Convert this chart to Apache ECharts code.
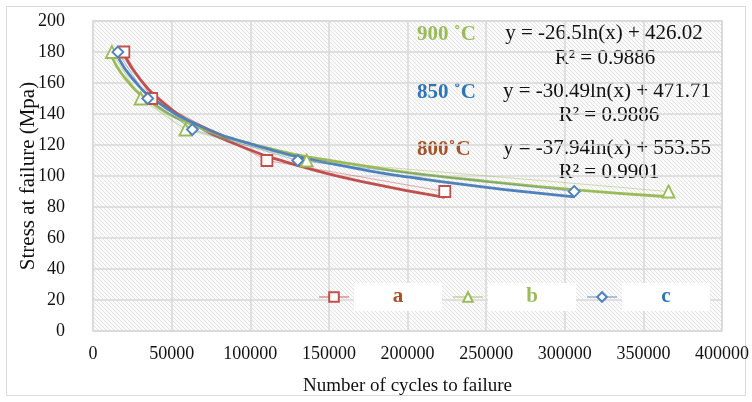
<!DOCTYPE html>
<html>
<head>
<meta charset="utf-8">
<script src="https://cdn.jsdelivr.net/npm/echarts@6/dist/echarts.min.js"></script>
<style>
  html, body { margin: 0; padding: 0; background: #fff; }
  #main { width: 752px; height: 402px; }
</style>
</head>
<body>
<div id="main"></div>
<script>
// measured points (cycles, stress)
var aX = [19600, 37300, 110600, 223700];
var aY = [180, 150, 110, 90];
var bX = [12000, 30300, 58800, 135900, 366000];
var bY = [180, 150, 130, 110, 90];
var cX = [15800, 34800, 63200, 130200, 306000];
var cY = [180, 150, 130, 110, 90];

// log trend lines
var trendAX = [19600, 30000, 45000, 65000, 90000, 130000, 175000, 223700];
var trendAY = [178.4, 162.4, 147.1, 133.1, 120.8, 106.8, 95.5, 86.2];
var trendBX = [12000, 20000, 35000, 60000, 100000, 160000, 250000, 366000];
var trendBY = [177.1, 163.6, 148.8, 134.5, 120.9, 108.5, 96.6, 86.6];
var trendCX = [15800, 25000, 40000, 65000, 100000, 150000, 220000, 306000];
var trendCY = [176.9, 162.9, 148.6, 133.8, 120.7, 108.3, 96.6, 86.6];

var xTicks = [0, 50000, 100000, 150000, 200000, 250000, 300000, 350000, 400000];
var yTicks = [0, 20, 40, 60, 80, 100, 120, 140, 160, 180, 200];

var RED = '#C0504D', GREEN = '#9BBB59', BLUE = '#4F81BD';
var FONT = '"Liberation Serif", "Times New Roman", serif';

function pairs(xs, ys) {
    var out = [];
    for (var i = 0; i < xs.length; i++) out.push([xs[i], ys[i]]);
    return out;
}

// hatch pattern for plot background
var pc = document.createElement('canvas');
pc.width = 4; pc.height = 4;
var ctx = pc.getContext('2d');
ctx.fillStyle = '#fbfbfb';
ctx.fillRect(0, 0, 4, 4);
ctx.strokeStyle = '#e2e2e2';
ctx.lineWidth = 1;
ctx.beginPath();
ctx.moveTo(-1, -1); ctx.lineTo(5, 5);
ctx.moveTo(-1, 3); ctx.lineTo(1, 5);
ctx.moveTo(3, -1); ctx.lineTo(5, 1);
ctx.stroke();

function dataSeries(name, xs, ys, color, symbol, size) {
    return {
        name: name,
        type: 'line',
        data: pairs(xs, ys),
        symbol: symbol,
        symbolSize: size,
        showAllSymbol: true,
        lineStyle: { color: color, width: 1.2, opacity: 0.45 },
        itemStyle: { color: '#fff', borderColor: color, borderWidth: 1.8 },
        z: 4
    };
}

function trendSeries(xs, ys, color) {
    return {
        type: 'line',
        data: pairs(xs, ys),
        smooth: true,
        symbol: 'none',
        lineStyle: { color: color, width: 2.8 },
        silent: true,
        z: 3
    };
}

var chart = echarts.init(document.getElementById('main'));

var eqStyle = { fill: '#111', font: '21px ' + FONT, textAlign: 'center' };
var legendText = function (color) {
    return { color: color, fontFamily: FONT, fontSize: 21, fontWeight: 'bold', backgroundColor: '#fff', width: 88, height: 28, align: 'center' };
};

var option = {
    backgroundColor: '#fff',
    animation: false,
    grid: {
        left: 93, right: 26, top: 21, bottom: 71,
        show: true,
        backgroundColor: { image: pc, repeat: 'repeat' },
        borderColor: '#d9d9d9',
        borderWidth: 1.5
    },
    xAxis: {
        type: 'value',
        min: xTicks[0], max: xTicks[xTicks.length - 1],
        interval: xTicks[1] - xTicks[0],
        name: 'Number of cycles to failure',
        nameLocation: 'middle',
        nameGap: 46,
        nameMoveOverlap: false,
        nameTextStyle: { fontFamily: FONT, fontSize: 19, color: '#111' },
        axisLine: { show: false },
        axisTick: { show: false },
        axisLabel: {
            fontFamily: FONT, fontSize: 18, color: '#111', margin: 14,
            formatter: function (v) { return String(v); }
        },
        splitLine: { lineStyle: { color: '#d9d9d9', width: 1.5 } }
    },
    yAxis: {
        type: 'value',
        min: yTicks[0], max: yTicks[yTicks.length - 1],
        interval: yTicks[1] - yTicks[0],
        name: 'Stress at failure (Mpa)',
        nameLocation: 'middle',
        nameGap: 54,
        nameMoveOverlap: false,
        nameTextStyle: { fontFamily: FONT, fontSize: 21, color: '#111' },
        axisLine: { show: false },
        axisTick: { show: false },
        axisLabel: { fontFamily: FONT, fontSize: 18, color: '#111', margin: 28 },
        splitLine: { lineStyle: { color: '#d9d9d9', width: 1.5 } }
    },
    legend: {
        left: 313, top: 278,
        itemWidth: 30, itemHeight: 12,
        itemGap: 10,
        data: ['a', 'b', 'c'],
        formatter: function (name) { return '{' + name + '|' + name + '}'; },
        textStyle: {
            rich: {
                a: legendText('#A5522B'),
                b: legendText('#9BBB59'),
                c: legendText('#2E75B6')
            }
        }
    },
    series: [
        trendSeries(trendAX, trendAY, RED),
        trendSeries(trendBX, trendBY, GREEN),
        trendSeries(trendCX, trendCY, BLUE),
        dataSeries('a', aX, aY, RED, 'rect', 11),
        dataSeries('b', bX, bY, GREEN, 'triangle', 12),
        dataSeries('c', cX, cY, BLUE, 'diamond', 11)
    ],
    graphic: [
        { type: 'rect', shape: { x: 6.5, y: 6.5, width: 739, height: 389 }, style: { fill: 'none', stroke: '#d9d9d9', lineWidth: 1 }, silent: true },
        { type: 'text', left: 417, top: 24, style: { text: '900 ˚C', fill: '#9BBB59', font: 'bold 21px ' + FONT } },
        { type: 'text', left: 417, top: 82, style: { text: '850 ˚C', fill: '#2E75B6', font: 'bold 21px ' + FONT } },
        { type: 'text', left: 417, top: 139, style: { text: '800˚C', fill: '#A5522B', font: 'bold 21px ' + FONT } },
        { type: 'text', x: 604, y: 23, style: Object.assign({ text: 'y = -26.5ln(x) + 426.02' }, eqStyle) },
        { type: 'text', x: 605, y: 48, style: Object.assign({ text: 'R² = 0.9886' }, eqStyle) },
        { type: 'text', x: 607, y: 81, style: Object.assign({ text: 'y = -30.49ln(x) + 471.71' }, eqStyle) },
        { type: 'text', x: 609, y: 105, style: Object.assign({ text: 'R² = 0.9886' }, eqStyle) },
        { type: 'text', x: 607, y: 138, style: Object.assign({ text: 'y = -37.94ln(x) + 553.55' }, eqStyle) },
        { type: 'text', x: 609, y: 162, style: Object.assign({ text: 'R² = 0.9901' }, eqStyle) }
    ]
};

chart.setOption(option);
window.addEventListener('resize', chart.resize);
</script>
</body>
</html>
